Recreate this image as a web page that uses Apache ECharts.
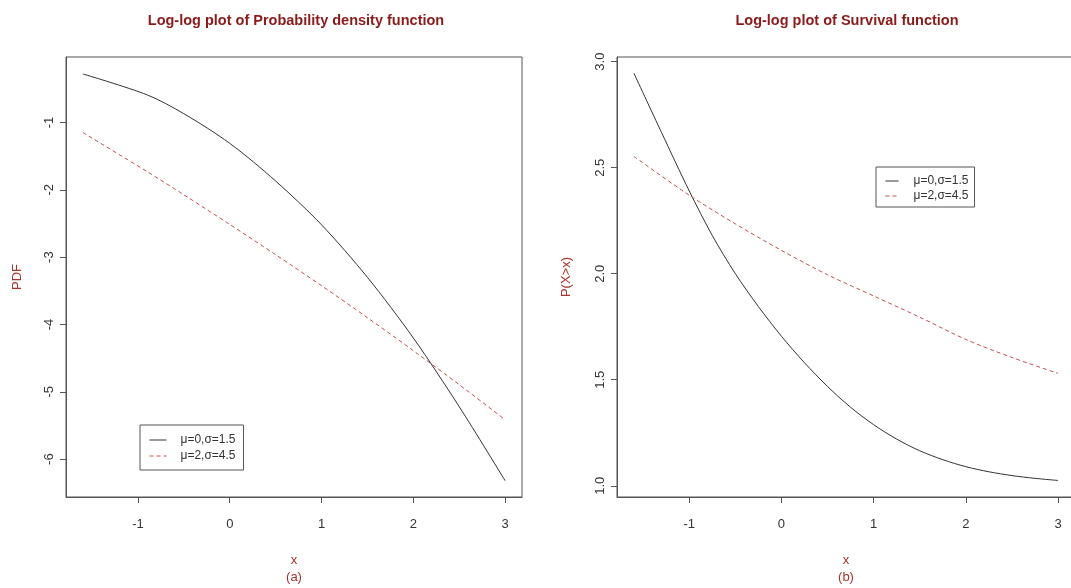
<!DOCTYPE html>
<html>
<head>
<meta charset="utf-8">
<script src="https://cdn.jsdelivr.net/npm/echarts@6/dist/echarts.min.js"></script>
<style>
html,body{margin:0;padding:0;background:#fff;}
#c{width:1071px;height:588px;}
</style>
</head>
<body>
<div id="c"></div>
<script>
// ---- data ----
const seriesNames = ['μ=0,σ=1.5', 'μ=2,σ=4.5'];
const xTicks = [-1, 0, 1, 2, 3];
const pdfYTicks = [-6, -5, -4, -3, -2, -1];
const survYTicks = [1.0, 1.5, 2.0, 2.5, 3.0];

// Panel (a): log-log PDF
const pdfX1 = [-1.6, -0.9, -0.5, 0, 0.5, 1.0, 1.5, 2.0, 2.5, 3.0];
const pdfY1 = [-0.28, -0.59, -0.87, -1.31, -1.87, -2.52, -3.30, -4.20, -5.22, -6.32];
const pdfX2 = [-1.6, -0.9, -0.5, 0, 0.5, 1.0, 1.5, 2.0, 2.5, 3.0];
const pdfY2 = [-1.15, -1.73, -2.074, -2.514, -2.964, -3.424, -3.899, -4.389, -4.894, -5.414];

// Panel (b): log-log survival function
const survX1 = [-1.6, -1.3, -1.0, -0.75, -0.5, -0.25, 0, 0.25, 0.5, 0.75, 1.0, 1.25, 1.5, 1.75, 2.0, 2.25, 2.5, 2.75, 3.0];
const survY1 = [2.945, 2.665, 2.39, 2.18, 2.0, 1.845, 1.705, 1.58, 1.468, 1.37, 1.288, 1.22, 1.165, 1.123, 1.09, 1.066, 1.048, 1.035, 1.025];
const survX2 = [-1.6, -1.0, -0.5, 0, 0.5, 1.0, 1.5, 2.0, 2.5, 3.0];
const survY2 = [2.553, 2.37, 2.235, 2.11, 1.995, 1.895, 1.795, 1.69, 1.605, 1.53];

const titles = ['Log-log plot of Probability density function', 'Log-log plot of Survival function'];
const yNames = ['PDF', 'P(X>x)'];
const xNames = ['x\n(a)', 'x\n(b)'];

// ---- styling ----
const NARROW = '"Liberation Sans Narrow", "Arial Narrow", "Liberation Sans", Arial, sans-serif';
const SANS = '"Liberation Sans", Arial, sans-serif';
const titleColor = '#8b1a1a';
const nameColor = '#a8322d';
const axisColor = '#555';
const labelColor = '#333';
const redLine = '#c0504d';

function zip(xs, ys){ return xs.map((x,i)=>[x, ys[i]]); }

const grids = [
  {left: 66, top: 57, width: 456, height: 440},
  {left: 617, top: 57, width: 458, height: 440}
];

function xAxis(i){
  return {
    type: 'value', gridIndex: i, min: -1.784, max: 3.184,
    splitLine: {show: false},
    axisLine: {show: true, onZero: false, lineStyle: {color: axisColor}},
    axisTick: {show: true, inside: false, length: 6, lineStyle: {color: axisColor}, customValues: xTicks},
    axisLabel: {customValues: xTicks, color: labelColor, fontFamily: SANS, fontSize: 13, margin: 21},
    name: xNames[i], nameLocation: 'middle', nameGap: 55,
    nameTextStyle: {color: nameColor, fontFamily: SANS, fontSize: 13, lineHeight: 17}
  };
}
function yAxis(i, mn, mx, ticks, fmt, gap){
  return {
    type: 'value', gridIndex: i, min: mn, max: mx,
    splitLine: {show: false},
    axisLine: {show: true, onZero: false, lineStyle: {color: axisColor}},
    axisTick: {show: true, inside: false, length: 6, lineStyle: {color: axisColor}, customValues: ticks},
    axisLabel: {customValues: ticks, rotate: 90, color: labelColor, fontFamily: SANS, fontSize: 13, margin: 10,
      formatter: fmt},
    name: yNames[i], nameLocation: 'middle', nameGap: gap,
    nameTextStyle: {color: nameColor, fontFamily: SANS, fontSize: 13}
  };
}

function line(name, data, xi, dashed){
  return {
    name: name, type: 'line', xAxisIndex: xi, yAxisIndex: xi, data: data,
    showSymbol: false, symbol: 'none', smooth: 0.3, animation: false,
    lineStyle: dashed ? {color: redLine, width: 1, type: [4, 3]} : {color: '#333', width: 1, type: 'solid'},
    itemStyle: {color: dashed ? redLine : '#333'}
  };
}

function legendAt(left, top, iw, textPad, padding, gap){
  return {
    left: left, top: top,
    orient: 'vertical', itemWidth: iw, itemHeight: 10, itemGap: gap,
    borderColor: axisColor, borderWidth: 1, backgroundColor: '#fff', padding: padding,
    textStyle: {fontFamily: SANS, fontSize: 12, lineHeight: 14, color: labelColor, padding: [0, 0, 0, textPad]},
    itemStyle: {opacity: 0},
    lineStyle: {width: 1},
    selectedMode: false,
    data: seriesNames.slice()
  };
}

const option = {
  animation: false,
  backgroundColor: '#fff',
  title: [
    {text: titles[0], left: 291, top: 8, textAlign: 'center',
     textStyle: {color: titleColor, fontFamily: NARROW, fontWeight: 'bold', fontSize: 14.5}},
    {text: titles[1], left: 842, top: 8, textAlign: 'center',
     textStyle: {color: titleColor, fontFamily: NARROW, fontWeight: 'bold', fontSize: 14.5}}
  ],
  grid: grids.map(g => Object.assign({show: true, borderColor: axisColor, borderWidth: 1,
    backgroundColor: 'transparent', containLabel: false, outerBoundsMode: 'none'}, g)),
  legend: [
    legendAt(140, 425, 17, 9, [8, 8, 7, 9], 2),
    legendAt(876, 167, 13, 10, [7, 6, 4, 9], 1)
  ],
  xAxis: [xAxis(0), xAxis(1)],
  yAxis: [
    yAxis(0, -6.562, -0.028, pdfYTicks, v => String(v), 42),
    yAxis(1, 0.947, 3.022, survYTicks, v => v.toFixed(1), 44)
  ],
  series: [
    line(seriesNames[0], zip(pdfX1, pdfY1), 0, false),
    line(seriesNames[1], zip(pdfX2, pdfY2), 0, true),
    line(seriesNames[0], zip(survX1, survY1), 1, false),
    line(seriesNames[1], zip(survX2, survY2), 1, true)
  ]
};

const chart = echarts.init(document.getElementById('c'), null, {renderer: 'canvas'});
chart.setOption(option);
</script>
</body>
</html>
